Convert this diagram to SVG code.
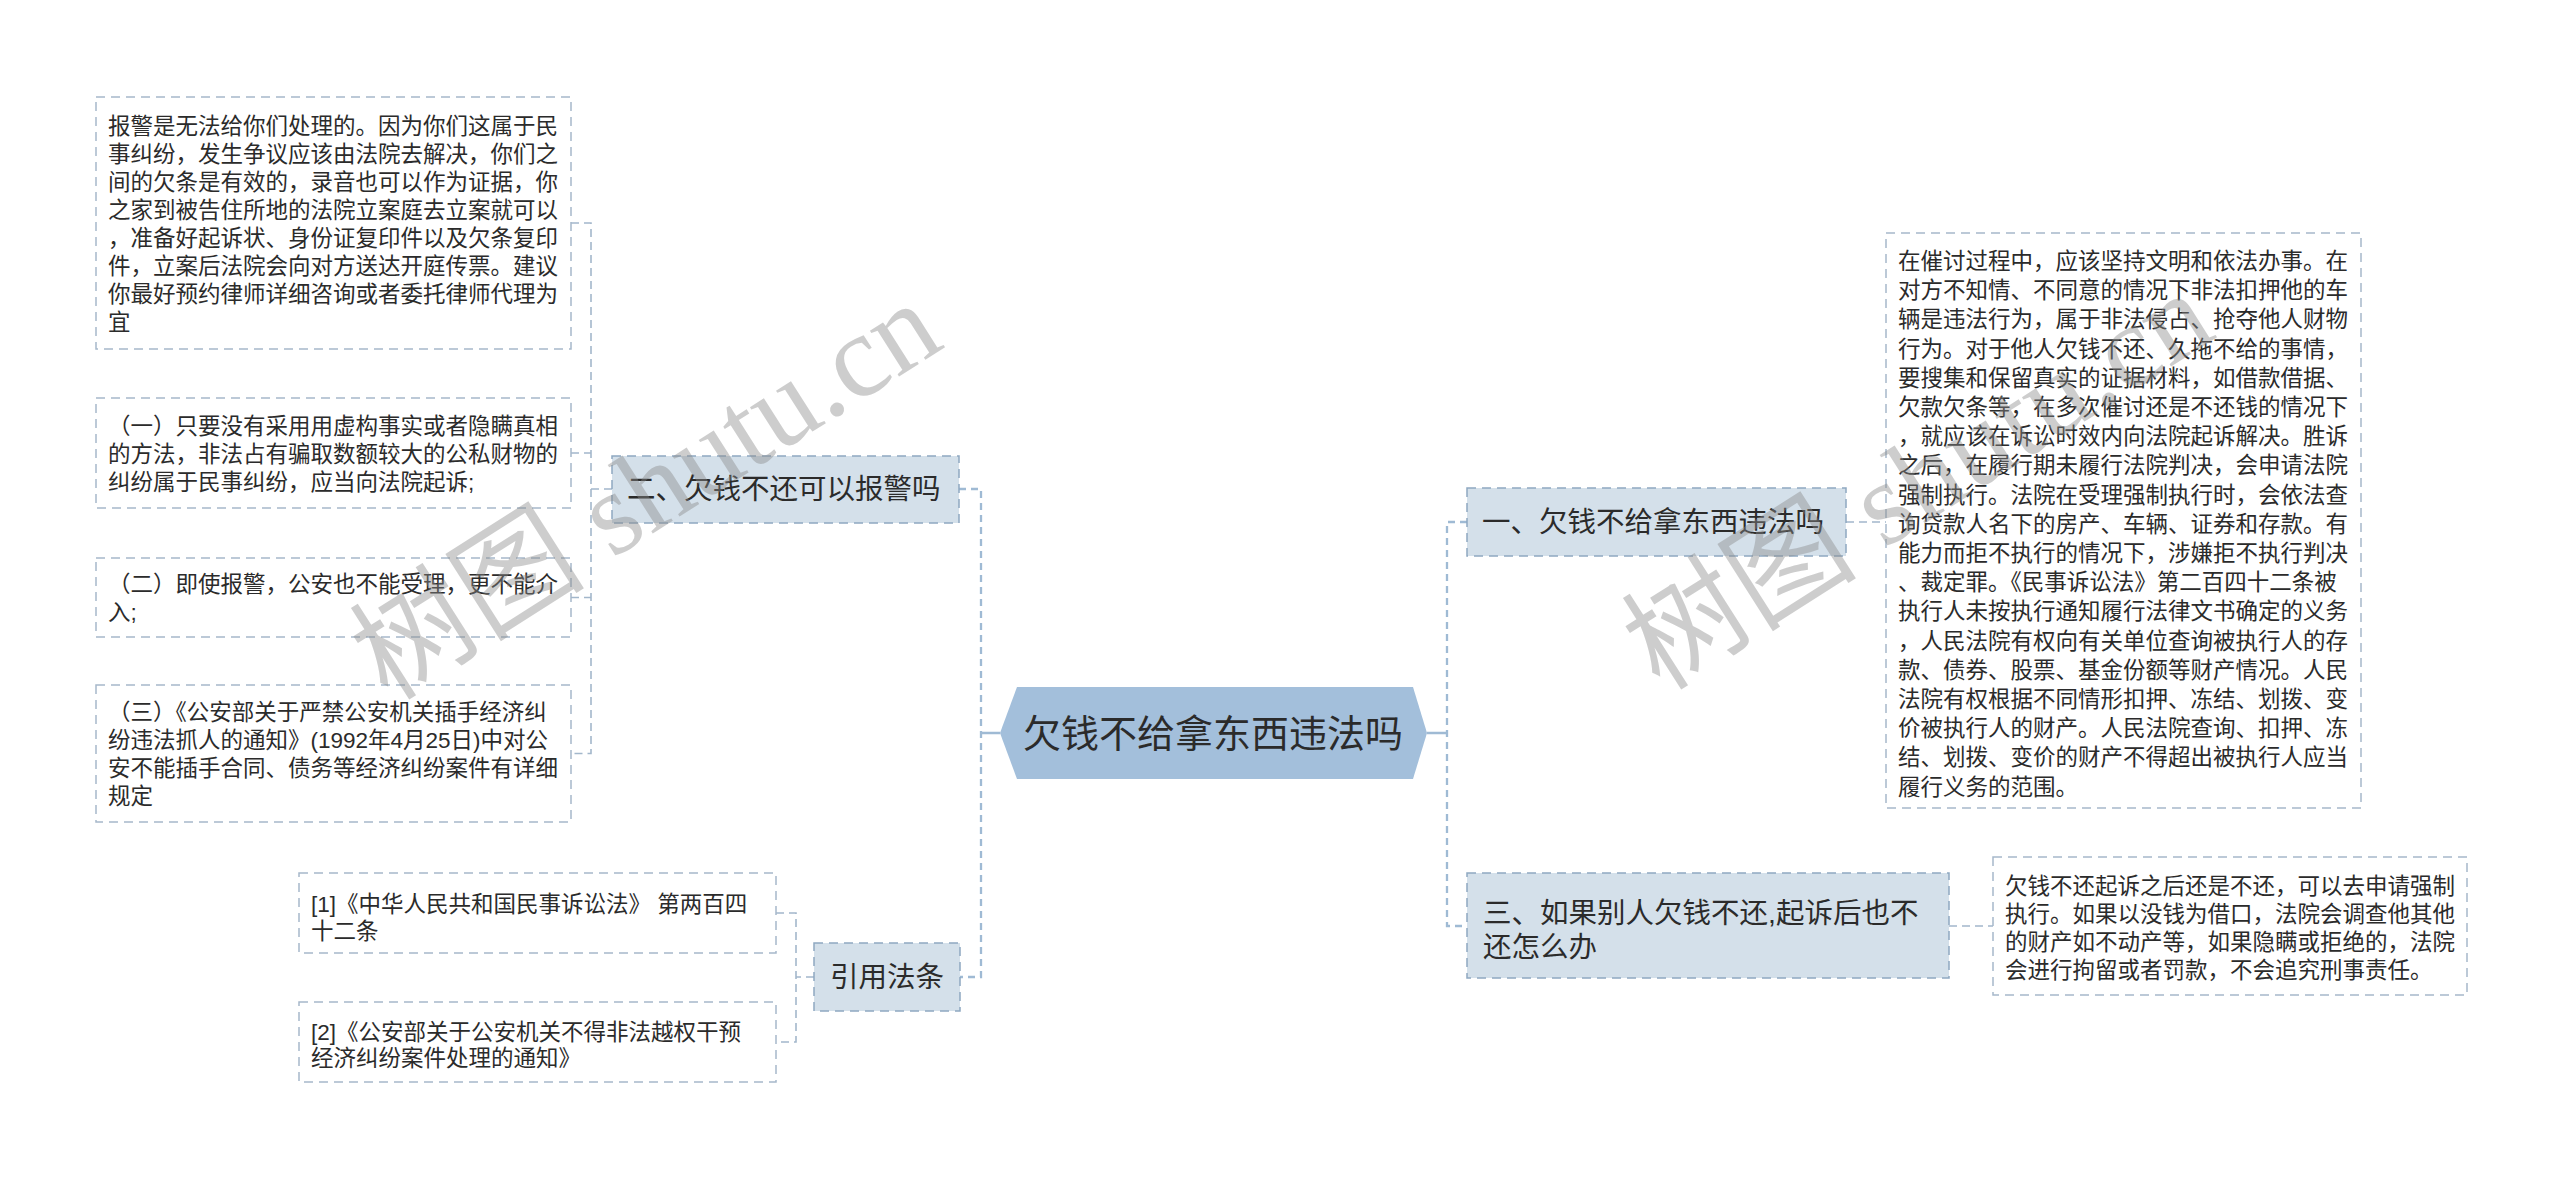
<svg xmlns="http://www.w3.org/2000/svg" width="2560" height="1179" viewBox="0 0 2560 1179">
<style>
.t{font-family:"Liberation Sans","Noto Sans CJK SC",sans-serif;fill:#2b2b2b}
.s{font-size:22.5px}
.m{font-size:28.5px}
.leaf{fill:#ffffff;stroke:#a6b8ca;stroke-width:1.5;stroke-dasharray:9 6}
.br{fill:#d4e0ea;stroke:#8ea8c1;stroke-width:1.5;stroke-dasharray:9 6}
.c1{fill:none;stroke:#9fbad4;stroke-width:2.3;stroke-dasharray:7 5}
.c2{fill:none;stroke:#a3b7cb;stroke-width:1.6;stroke-dasharray:8 5}
.sol{fill:none;stroke:#9fbad4;stroke-width:2.5}
.wm{font-family:"Liberation Serif","Noto Sans CJK SC",serif;font-size:118px;fill:#8a8a8a;opacity:0.42}
</style>
<rect width="2560" height="1179" fill="#ffffff"/>
<g id="connectors">
<path class="sol" d="M1000 733 H981"/>
<path class="sol" d="M1427 733 H1447"/>
<path class="c1" d="M959 489 H981 V977 H960"/>
<path class="c1" d="M1467 522 H1447 V926 H1467"/>
<path class="c2" d="M612 489 H591"/>
<path class="c2" d="M571 223 H591 V753.5 H571"/>
<path class="c2" d="M571 453 H591"/>
<path class="c2" d="M571 597.5 H591"/>
<path class="c2" d="M814 977 H796"/>
<path class="c2" d="M776 913 H796 V1042 H776"/>
<path class="c2" d="M1846 522 H1886"/>
<path class="c2" d="M1949 926 H1993"/>
</g>
<g id="root">
<polygon points="1000,733 1017,687 1413,687 1427,733 1413,779 1017,779" fill="#a3bfdb"/>
<text class="t" x="1213" y="747" font-size="38" text-anchor="middle">欠钱不给拿东西违法吗</text>
</g>
<g id="n2">
<rect class="br" x="612" y="456" width="347" height="67"/>
<text class="t m" x="627" y="499">二、欠钱不还可以报警吗</text>
</g>
<g id="n2a">
<rect class="leaf" x="96" y="97" width="475" height="252"/>
<text class="t s"><tspan x="108" y="134">报警是无法给你们处理的。因为你们这属于民</tspan><tspan x="108" y="162">事纠纷，发生争议应该由法院去解决，你们之</tspan><tspan x="108" y="190">间的欠条是有效的，录音也可以作为证据，你</tspan><tspan x="108" y="218">之家到被告住所地的法院立案庭去立案就可以</tspan><tspan x="108" y="246">，准备好起诉状、身份证复印件以及欠条复印</tspan><tspan x="108" y="274">件，立案后法院会向对方送达开庭传票。建议</tspan><tspan x="108" y="302">你最好预约律师详细咨询或者委托律师代理为</tspan><tspan x="108" y="330">宜</tspan></text>
</g>
<g id="n2b">
<rect class="leaf" x="96" y="398" width="475" height="110"/>
<text class="t s"><tspan x="108" y="434">（一）只要没有采用用虚构事实或者隐瞒真相</tspan><tspan x="108" y="462">的方法，非法占有骗取数额较大的公私财物的</tspan><tspan x="108" y="490">纠纷属于民事纠纷，应当向法院起诉;</tspan></text>
</g>
<g id="n2c">
<rect class="leaf" x="96" y="558" width="475" height="79"/>
<text class="t s"><tspan x="108" y="592">（二）即使报警，公安也不能受理，更不能介</tspan><tspan x="108" y="620">入;</tspan></text>
</g>
<g id="n2d">
<rect class="leaf" x="96" y="685" width="475" height="137"/>
<text class="t s"><tspan x="108" y="720">（三）《公安部关于严禁公安机关插手经济纠</tspan><tspan x="108" y="748">纷违法抓人的通知》(1992年4月25日)中对公</tspan><tspan x="108" y="776">安不能插手合同、债务等经济纠纷案件有详细</tspan><tspan x="108" y="804">规定</tspan></text>
</g>
<g id="n4">
<rect class="br" x="814" y="943" width="146" height="68"/>
<text class="t m" x="830" y="987">引用法条</text>
</g>
<g id="n4a">
<rect class="leaf" x="299" y="873" width="477" height="80"/>
<text class="t s"><tspan x="311" y="912">[1]《中华人民共和国民事诉讼法》 第两百四</tspan><tspan x="311" y="939">十二条</tspan></text>
</g>
<g id="n4b">
<rect class="leaf" x="299" y="1002" width="477" height="80"/>
<text class="t s"><tspan x="311" y="1040">[2]《公安部关于公安机关不得非法越权干预</tspan><tspan x="311" y="1066">经济纠纷案件处理的通知》</tspan></text>
</g>
<g id="n1">
<rect class="br" x="1467" y="488" width="379" height="68"/>
<text class="t m" x="1482" y="532">一、欠钱不给拿东西违法吗</text>
</g>
<g id="n1a">
<rect class="leaf" x="1886" y="233" width="475" height="575"/>
<text class="t s"><tspan x="1898" y="269">在催讨过程中，应该坚持文明和依法办事。在</tspan><tspan x="1898" y="298.2">对方不知情、不同意的情况下非法扣押他的车</tspan><tspan x="1898" y="327.4">辆是违法行为，属于非法侵占、抢夺他人财物</tspan><tspan x="1898" y="356.6">行为。对于他人欠钱不还、久拖不给的事情，</tspan><tspan x="1898" y="385.8">要搜集和保留真实的证据材料，如借款借据、</tspan><tspan x="1898" y="415">欠款欠条等，在多次催讨还是不还钱的情况下</tspan><tspan x="1898" y="444.2">，就应该在诉讼时效内向法院起诉解决。胜诉</tspan><tspan x="1898" y="473.4">之后，在履行期未履行法院判决，会申请法院</tspan><tspan x="1898" y="502.6">强制执行。法院在受理强制执行时，会依法查</tspan><tspan x="1898" y="531.8">询贷款人名下的房产、车辆、证券和存款。有</tspan><tspan x="1898" y="561">能力而拒不执行的情况下，涉嫌拒不执行判决</tspan><tspan x="1898" y="590.2">、裁定罪。《民事诉讼法》第二百四十二条被</tspan><tspan x="1898" y="619.4">执行人未按执行通知履行法律文书确定的义务</tspan><tspan x="1898" y="648.6">，人民法院有权向有关单位查询被执行人的存</tspan><tspan x="1898" y="677.8">款、债券、股票、基金份额等财产情况。人民</tspan><tspan x="1898" y="707">法院有权根据不同情形扣押、冻结、划拨、变</tspan><tspan x="1898" y="736.2">价被执行人的财产。人民法院查询、扣押、冻</tspan><tspan x="1898" y="765.4">结、划拨、变价的财产不得超出被执行人应当</tspan><tspan x="1898" y="794.6">履行义务的范围。</tspan></text>
</g>
<g id="n3">
<rect class="br" x="1467" y="873" width="482" height="105"/>
<text class="t m"><tspan x="1483" y="923">三、如果别人欠钱不还,起诉后也不</tspan><tspan x="1483" y="957">还怎么办</tspan></text>
</g>
<g id="n3a">
<rect class="leaf" x="1993" y="857" width="474" height="138"/>
<text class="t s"><tspan x="2005" y="894">欠钱不还起诉之后还是不还，可以去申请强制</tspan><tspan x="2005" y="922">执行。如果以没钱为借口，法院会调查他其他</tspan><tspan x="2005" y="950">的财产如不动产等，如果隐瞒或拒绝的，法院</tspan><tspan x="2005" y="978">会进行拘留或者罚款，不会追究刑事责任。</tspan></text>
</g>
<g id="watermark">
<text class="wm" x="388" y="702" transform="rotate(-32.5 388 702)">树图 shutu.cn</text>
<text class="wm" x="1660" y="692" transform="rotate(-32.5 1660 692)">树图 shutu.cn</text>
</g>
</svg>
